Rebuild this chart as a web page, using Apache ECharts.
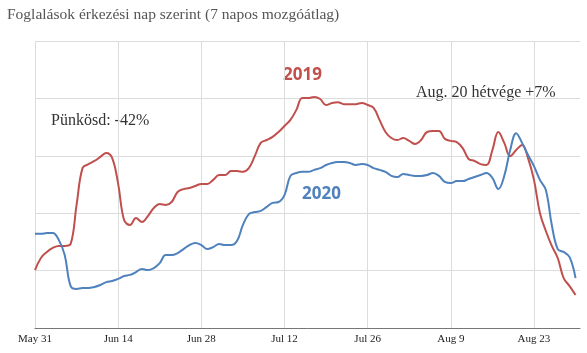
<!DOCTYPE html>
<html>
<head>
<meta charset="utf-8">
<script src="https://cdn.jsdelivr.net/npm/echarts@6/dist/echarts.min.js"></script>
<style>
  html, body { margin: 0; padding: 0; background: #fff; }
  #myChart { width: 587px; height: 353px; }
</style>
</head>
<body>
<div id="myChart"></div>
<script>
// napok: 0 = May 31 ... 91 = Aug 30 (7 napos mozgóátlag, indexált érték)
var tickLabels = ['May 31', 'Jun 14', 'Jun 28', 'Jul 12', 'Jul 26', 'Aug 9', 'Aug 23'];

var data2019 = [
    20.2, 24.4, 26.5, 27.9, 28.6, 28.6, 29.3, 42.9, 55.7, 57.1,
    58.2, 59.6, 61.0, 59.2, 50.2, 37.6, 35.9, 38.3, 36.9, 39.0,
    41.8, 43.2, 42.9, 43.9, 47.4, 48.4, 48.8, 49.5, 50.2, 50.2,
    51.6, 53.3, 53.3, 54.7, 54.7, 54.4, 55.7, 59.9, 64.5, 65.5,
    66.6, 68.3, 70.4, 72.5, 76.0, 80.1, 80.1, 80.5, 79.8, 77.7,
    78.4, 78.7, 78.0, 78.0, 78.0, 78.4, 77.7, 76.7, 72.5, 68.3,
    66.2, 65.5, 66.2, 65.2, 64.1, 65.5, 68.3, 68.6, 68.6, 65.9,
    65.2, 64.8, 62.7, 58.9, 58.2, 57.1, 56.8, 62.0, 68.3, 64.5,
    59.9, 62.0, 63.8, 59.2, 51.6, 40.1, 33.8, 28.6, 24.4, 17.4,
    14.6, 11.5
];

var data2020 = [
    32.8, 32.8, 33.1, 33.1, 30.7, 25.4, 14.6, 13.6, 13.9, 13.9,
    14.3, 15.0, 16.0, 16.4, 17.1, 18.1, 18.5, 19.5, 20.6, 20.2,
    20.9, 22.6, 25.4, 25.4, 26.1, 27.5, 28.9, 29.6, 28.9, 27.5,
    28.2, 29.3, 28.9, 28.9, 30.3, 35.9, 39.7, 40.4, 40.8, 42.2,
    43.6, 43.9, 46.3, 53.0, 54.0, 54.4, 54.4, 55.1, 55.7, 56.8,
    57.5, 57.8, 57.8, 57.5, 56.8, 57.1, 56.8, 55.7, 55.1, 54.4,
    53.0, 52.6, 53.7, 53.3, 53.0, 53.0, 53.3, 54.0, 53.0, 50.9,
    50.5, 51.2, 51.2, 51.9, 52.6, 53.3, 54.0, 52.3, 48.4, 53.0,
    62.0, 67.9, 64.5, 60.3, 56.4, 51.6, 48.1, 35.9, 27.5, 26.5,
    24.7, 17.4
];

var color2019 = '#c0504d';
var color2020 = '#4f81bd';

function toPairs(arr) {
    var d = [];
    for (var i = 0; i < arr.length; i++) {
        d.push([i, arr[i]]);
    }
    return d;
}

var myChart = echarts.init(document.getElementById('myChart'), null, {renderer: 'canvas'});

var option = {
    animation: false,
    title: {
        text: 'Foglalások érkezési nap szerint (7 napos mozgóátlag)',
        left: 7,
        top: 7,
        padding: 0,
        textStyle: {
            fontFamily: 'Liberation Serif',
            fontWeight: 'normal',
            fontSize: 15.5,
            color: '#555'
        }
    },
    grid: {
        left: 35,
        right: 7,
        top: 41,
        bottom: 25
    },
    xAxis: {
        type: 'value',
        min: 0,
        max: 91.75,
        interval: 14,
        axisLine: { show: true, lineStyle: { color: '#777', width: 1 } },
        axisTick: { show: false },
        axisLabel: {
            fontFamily: 'Liberation Serif',
            fontSize: 11,
            color: '#222',
            margin: 6,
            showMaxLabel: false,
            formatter: function (v) {
                var k = Math.round(v / 14);
                if (Math.abs(v - k * 14) > 0.01) return '';
                return tickLabels[k] || '';
            }
        },
        splitLine: {
            show: true,
            showMaxLine: false,
            lineStyle: { color: '#dcdcdc', width: 1 }
        }
    },
    yAxis: {
        type: 'value',
        min: 0,
        max: 100,
        interval: 20,
        axisLine: { show: false },
        axisTick: { show: false },
        axisLabel: { show: false },
        splitLine: { lineStyle: { color: '#dcdcdc', width: 1 } }
    },
    series: [
        {
            name: '2019',
            type: 'line',
            data: toPairs(data2019),
            smooth: 0.4,
            showSymbol: false,
            lineStyle: { color: color2019, width: 2 },
            itemStyle: { color: color2019 }
        },
        {
            name: '2020',
            type: 'line',
            data: toPairs(data2020),
            smooth: 0.4,
            showSymbol: false,
            lineStyle: { color: color2020, width: 2 },
            itemStyle: { color: color2020 }
        }
    ],
    graphic: [
        {
            type: 'text', left: 283, top: 67,
            style: { text: '2019', fill: color2019, font: 'bold 17px "Open Sans"' }
        },
        {
            type: 'text', left: 302, top: 186,
            style: { text: '2020', fill: color2020, font: 'bold 17px "Open Sans"' }
        },
        {
            type: 'text', left: 51, top: 113,
            style: { text: 'Pünkösd: -42%', fill: '#333', font: '16px "Liberation Serif"' }
        },
        {
            type: 'text', left: 416, top: 85,
            style: { text: 'Aug. 20 hétvége +7%', fill: '#333', font: '16px "Liberation Serif"' }
        }
    ]
};

myChart.setOption(option);
</script>
</body>
</html>
